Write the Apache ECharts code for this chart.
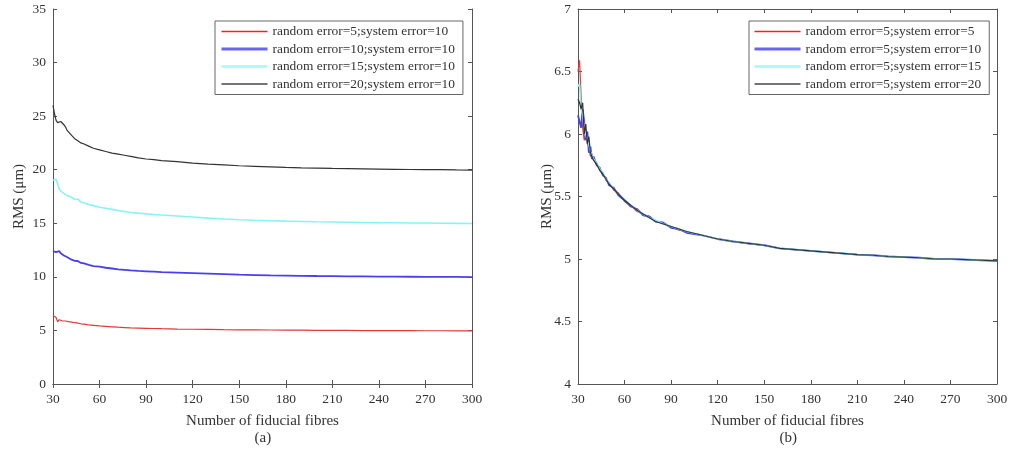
<!DOCTYPE html>
<html>
<head>
<meta charset="utf-8">
<script src="https://cdn.jsdelivr.net/npm/echarts@6/dist/echarts.min.js"></script>
<style>
html,body{margin:0;padding:0;background:#fff;}
#a{position:absolute;left:0;top:0;width:540px;height:455px;}
#b{position:absolute;left:540px;top:0;width:473px;height:455px;}
</style>
</head>
<body>
<div id="a"></div>
<div id="b"></div>
<script>
// shared x positions (number of fiducial fibres)
const fibres = [30,31,32,33,34,35,36,37,38,39,40,42,44,46,48,50,53,56,60,64,68,72,76,80,85,90,95,100,110,120,130,140,150,160,170,180,190,200,210,220,230,240,250,260,270,280,290,300];
const xTicks = [30,60,90,120,150,180,210,240,270,300];

// (a) system error = 10
const namesA = ['random error=5;system error=10','random error=10;system error=10','random error=15;system error=10','random error=20;system error=10'];
const a_r5  = [6.4,6.3,6.2,5.8,6.0,5.95,5.9,5.92,5.88,5.85,5.82,5.78,5.72,5.68,5.62,5.58,5.52,5.48,5.42,5.38,5.34,5.3,5.27,5.24,5.22,5.2,5.18,5.16,5.13,5.11,5.09,5.07,5.06,5.05,5.04,5.03,5.02,5.01,5.0,5.0,4.99,4.99,4.98,4.98,4.97,4.97,4.96,4.96];
const a_r10 = [12.4,12.35,12.3,12.35,12.4,12.2,12.1,12.0,11.9,11.85,11.75,11.6,11.5,11.48,11.3,11.25,11.12,11.0,10.95,10.85,10.78,10.7,10.65,10.6,10.55,10.52,10.48,10.44,10.4,10.35,10.3,10.25,10.2,10.17,10.14,10.12,10.1,10.08,10.07,10.05,10.04,10.03,10.02,10.01,10.0,10.0,9.99,9.98];
const a_r15 = [19.0,19.0,19.1,18.7,18.2,18.0,17.9,17.8,17.7,17.6,17.5,17.4,17.25,17.25,17.0,16.9,16.75,16.65,16.5,16.4,16.3,16.2,16.1,16.0,15.95,15.88,15.82,15.77,15.68,15.58,15.48,15.4,15.33,15.28,15.24,15.2,15.17,15.14,15.12,15.1,15.08,15.06,15.05,15.03,15.02,15.0,14.99,14.98];
const a_r20 = [26.0,25.2,24.6,24.4,24.25,24.5,24.65,24.2,24.0,23.7,23.6,23.2,22.9,22.7,22.5,22.4,22.2,22.0,21.85,21.7,21.55,21.45,21.35,21.25,21.1,21.0,20.95,20.85,20.75,20.62,20.53,20.45,20.37,20.32,20.27,20.22,20.18,20.15,20.12,20.1,20.08,20.06,20.04,20.02,20.01,20.0,19.98,19.97];

// (b) random error = 5
const namesB = ['random error=5;system error=5','random error=5;system error=10','random error=5;system error=15','random error=5;system error=20'];
const b_s5  = [6.5,6.59,6.3,6.05,5.95,6.0,5.93,5.9,5.82,5.84,5.8,5.77,5.71,5.69,5.63,5.61,5.55,5.53,5.46,5.43,5.38,5.36,5.33,5.31,5.28,5.26,5.23,5.22,5.19,5.16,5.14,5.12,5.11,5.085,5.075,5.065,5.055,5.045,5.035,5.03,5.02,5.015,5.01,5.0,5.0,4.995,4.99,4.985];
const b_s10 = [6.15,6.1,6.05,6.2,6.1,5.95,6.02,5.85,5.9,5.8,5.82,5.75,5.73,5.67,5.65,5.59,5.57,5.51,5.47,5.42,5.4,5.35,5.34,5.3,5.29,5.25,5.24,5.21,5.19,5.16,5.14,5.125,5.11,5.085,5.075,5.065,5.055,5.045,5.035,5.03,5.02,5.015,5.01,5.0,5.0,4.995,4.99,4.985];
const b_s15 = [6.38,6.4,6.2,6.15,6.05,6.0,5.95,5.92,5.86,5.85,5.8,5.77,5.72,5.69,5.64,5.61,5.56,5.52,5.48,5.43,5.39,5.36,5.33,5.31,5.28,5.26,5.24,5.22,5.19,5.16,5.14,5.125,5.11,5.085,5.075,5.065,5.055,5.045,5.035,5.03,5.02,5.015,5.01,5.0,5.0,4.995,4.99,4.985];
const b_s20 = [6.28,6.25,6.2,6.25,6.0,6.08,5.92,5.98,5.85,5.86,5.79,5.76,5.71,5.68,5.64,5.6,5.56,5.52,5.47,5.43,5.39,5.36,5.33,5.3,5.28,5.26,5.24,5.22,5.19,5.16,5.14,5.125,5.11,5.085,5.075,5.065,5.055,5.045,5.035,5.03,5.02,5.015,5.01,5.0,5.0,4.995,4.99,4.985];

const colors = ['#e03a3a','#4a3ff0','#86f4f4','#333333'];
const legendColors = ['#ee2222','#6a64f4','#a8f6f6','#444444'];
const widths = [1.2,1.8,1.6,1.2];
const legendWidths = [1.5,3,2.4,1.6];
const FONT = '"Liberation Serif", "Times New Roman", serif';
const AX = '#555';

function pairs(ys){ return fibres.map((x,i)=>[x,ys[i]]); }

function makeOption(names, ys, yMin, yMax, yInt, gridLeft, legendLeft, padL, label, yNameGap){
  const axisLine = {show:true, lineStyle:{color:AX, width:1}};
  const tick = {show:true, inside:true, length:4, lineStyle:{color:AX}};
  return {
    animation:false,
    textStyle:{fontFamily:FONT},
    grid:{left:gridLeft, top:9, width:419, height:375, containLabel:false, outerBoundsMode:'none'},
    legend:{
      orient:'vertical', left:legendLeft, top:21,
      padding:[4,8,4,padL], itemGap:4.5, itemWidth:46, itemHeight:12, itemTextGap:3,
      borderColor:'#666', borderWidth:1, backgroundColor:'#fff',
      textStyle:{fontFamily:FONT, fontSize:13.4, color:'#333'},
      data: names.map((n,i)=>({name:n, itemStyle:{color:legendColors[i], opacity:0},
        lineStyle:{color:legendColors[i], width:legendWidths[i], opacity:1}}))
    },
    xAxis:[
      {type:'value', min:30, max:300, interval:30, position:'bottom',
       name:'Number of fiducial fibres', nameLocation:'middle', nameGap:30,
       nameTextStyle:{fontFamily:FONT, fontSize:15, color:'#333'},
       axisLine:axisLine, axisTick:tick, splitLine:{show:false},
       axisLabel:{fontFamily:FONT, fontSize:13.5, color:'#333', margin:8}},
      {type:'value', min:30, max:300, interval:30, position:'top',
       axisLine:axisLine, axisTick:tick, splitLine:{show:false}, axisLabel:{show:false}}
    ],
    yAxis:[
      {type:'value', min:yMin, max:yMax, interval:yInt, position:'left',
       name:'RMS (μm)', nameLocation:'middle', nameGap:yNameGap, nameMoveOverlap:false,
       nameTextStyle:{fontFamily:FONT, fontSize:15, color:'#333'},
       axisLine:axisLine, axisTick:tick, splitLine:{show:false},
       axisLabel:{fontFamily:FONT, fontSize:13.5, color:'#333', margin:7}},
      {type:'value', min:yMin, max:yMax, interval:yInt, position:'right',
       axisLine:axisLine, axisTick:tick, splitLine:{show:false}, axisLabel:{show:false}}
    ],
    graphic:[{type:'text', left: gridLeft + 209.5 - 8, top:431,
      style:{text:label, font:'15px "Liberation Serif", serif', fill:'#333'}}],
    series: ys.map((y,i)=>({
      name:names[i], type:'line', xAxisIndex:0, yAxisIndex:0,
      data:pairs(y), showSymbol:false, symbol:'none',
      lineStyle:{color:colors[i], width:widths[i]}, itemStyle:{color:colors[i]}
    }))
  };
}

const ca = echarts.init(document.getElementById('a'), null, {renderer:'canvas'});
ca.setOption(makeOption(namesA, [a_r5,a_r10,a_r15,a_r20], 0, 35, 5, 53, 215, 5, '(a)', 26));
const cb = echarts.init(document.getElementById('b'), null, {renderer:'canvas'});
cb.setOption(makeOption(namesB, [b_s5,b_s10,b_s15,b_s20], 4, 7, 0.5, 38, 209, 4, '(b)', 23));
</script>
</body>
</html>
